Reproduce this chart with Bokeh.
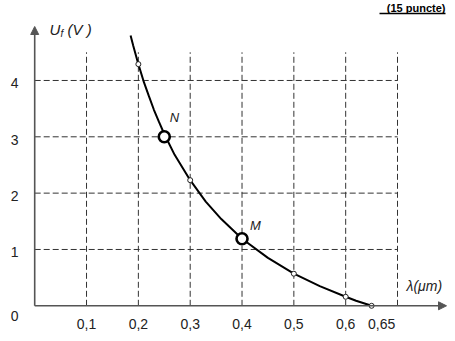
from bokeh.plotting import figure
from bokeh.models import Range1d, Arrow, NormalHead
from bokeh.core.properties import value
from bokeh.embed import file_html
from bokeh.resources import INLINE

# ---- data ----
curve_lambda = [0.185, 0.19, 0.2, 0.21, 0.22, 0.23, 0.24, 0.25, 0.27, 0.3, 0.33, 0.36,
                0.4, 0.45, 0.5, 0.55, 0.6, 0.62, 0.65]
curve_u = [4.80, 4.62, 4.29, 3.99, 3.73, 3.48, 3.26, 3.05, 2.68, 2.23, 1.85, 1.54,
           1.19, 0.85, 0.57, 0.35, 0.16, 0.09, 0.0]
small_lambda = [0.2, 0.3, 0.5, 0.6, 0.65]
small_u = [4.29, 2.23, 0.57, 0.16, 0.0]
big_lambda = [0.25, 0.4]
big_u = [3.0, 1.19]
big_names = ["N", "M"]
x_ticks = [0.1, 0.2, 0.3, 0.4, 0.5, 0.6, 0.65]
x_tick_labels = ["0,1", "0,2", "0,3", "0,4", "0,5", "0,6", "0,65"]
y_ticks = [0, 1, 2, 3, 4]
y_tick_labels = ["0", "1", "2", "3", "4"]
grid_x = [0.1, 0.2, 0.3, 0.4, 0.5, 0.6, 0.7]
grid_y = [1, 2, 3, 4]

# ---- layout helpers (picture pixel -> data) ----
X0, SX = 34.2, 518.3
Y0, SY = 305.3, 56.33
def X(px):
    return (px - X0) / SX
def Y(py):
    return (Y0 - py) / SY

W, H = 447, 333
p = figure(width=W, height=H, output_backend="svg", toolbar_location=None,
           x_range=Range1d(X(0), X(W)), y_range=Range1d(Y(H), Y(0)),
           x_axis_type=None, y_axis_type=None, min_border=0)
p.grid.visible = False
p.outline_line_color = None
p.background_fill_color = "white"

FONT = value("Liberation Sans")
GRID_C = "#333333"
AX_C = "#555555"
TXT_C = "#222222"

# dashed grid
gx_top = 4.5
p.segment(x0=grid_x, y0=[0] * len(grid_x), x1=grid_x, y1=[gx_top] * len(grid_x),
          line_color=GRID_C, line_width=1, line_dash="6 3")
p.segment(x0=[0] * len(grid_y), y0=grid_y, x1=[0.7] * len(grid_y), y1=grid_y,
          line_color=GRID_C, line_width=1, line_dash="6 3")

# axes with arrows
p.add_layout(Arrow(x_start=0, y_start=0, x_end=0, y_end=Y(26), line_color=AX_C, line_width=1.6,
                   end=NormalHead(size=8, fill_color=AX_C, line_color=AX_C)))
p.add_layout(Arrow(x_start=0, y_start=0, x_end=X(446), y_end=0, line_color=AX_C, line_width=1.6,
                   end=NormalHead(size=8, fill_color=AX_C, line_color=AX_C)))

# curve
p.line(curve_lambda, curve_u, line_color="black", line_width=2)
p.scatter(small_lambda, small_u, size=5, marker="circle", fill_color="white",
          line_color="#222222", line_width=1)
p.scatter(big_lambda, big_u, size=11, marker="circle", fill_color="white",
          line_color="black", line_width=2.6)

# point names
p.text(x=[X(174), X(255)], y=[Y(117), Y(225)], text=big_names, text_font=FONT,
       text_font_style="italic", text_font_size="13px", text_align="center",
       text_baseline="middle", text_color=TXT_C)

# tick labels
p.text(x=x_ticks[:-1], y=[0] * (len(x_ticks) - 1), text=x_tick_labels[:-1], text_font=FONT,
       text_font_size="14px", text_align="center", text_baseline="middle",
       y_offset=18, text_color=TXT_C)
p.text(x=[x_ticks[-1]], y=[0], text=[x_tick_labels[-1]], text_font=FONT,
       text_font_size="14px", text_align="center", text_baseline="middle",
       x_offset=10, y_offset=18, text_color=TXT_C)
p.text(x=[0] * 4, y=y_ticks[1:], text=y_tick_labels[1:], text_font=FONT,
       text_font_size="14px", text_align="center", text_baseline="middle",
       x_offset=-20, y_offset=3, text_color=TXT_C)
p.text(x=[0], y=[0], text=[y_tick_labels[0]], text_font=FONT,
       text_font_size="14px", text_align="center", text_baseline="middle",
       x_offset=-20, y_offset=10, text_color=TXT_C)

# axis titles
p.text(x=[X(49)], y=[Y(29)], text=["U"], text_font=FONT, text_font_style="italic",
       text_font_size="15px", text_align="left", text_baseline="middle", text_color=TXT_C)
p.text(x=[X(60)], y=[Y(33)], text=["f"], text_font=FONT, text_font_style="italic",
       text_font_size="10px", text_align="left", text_baseline="middle", text_color=TXT_C)
p.text(x=[X(67)], y=[Y(29)], text=["(V )"], text_font=FONT, text_font_style="italic",
       text_font_size="15px", text_align="left", text_baseline="middle", text_color=TXT_C)
p.text(x=[X(406)], y=[Y(285)], text=["λ(μm)"], text_font=FONT, text_font_style="italic",
       text_font_size="14px", text_align="left", text_baseline="middle", text_color=TXT_C)

# title at the very top right
p.text(x=[X(445)], y=[Y(1)], text=["(15 puncte)"], text_font=FONT, text_font_style="bold",
       text_font_size="11px", text_align="right", text_baseline="top", text_color="black")
p.segment(x0=[X(379)], y0=[Y(13)], x1=[X(445)], y1=[Y(13)], line_color="black", line_width=1.5)

open("out.html", "w").write(file_html(p, INLINE))
